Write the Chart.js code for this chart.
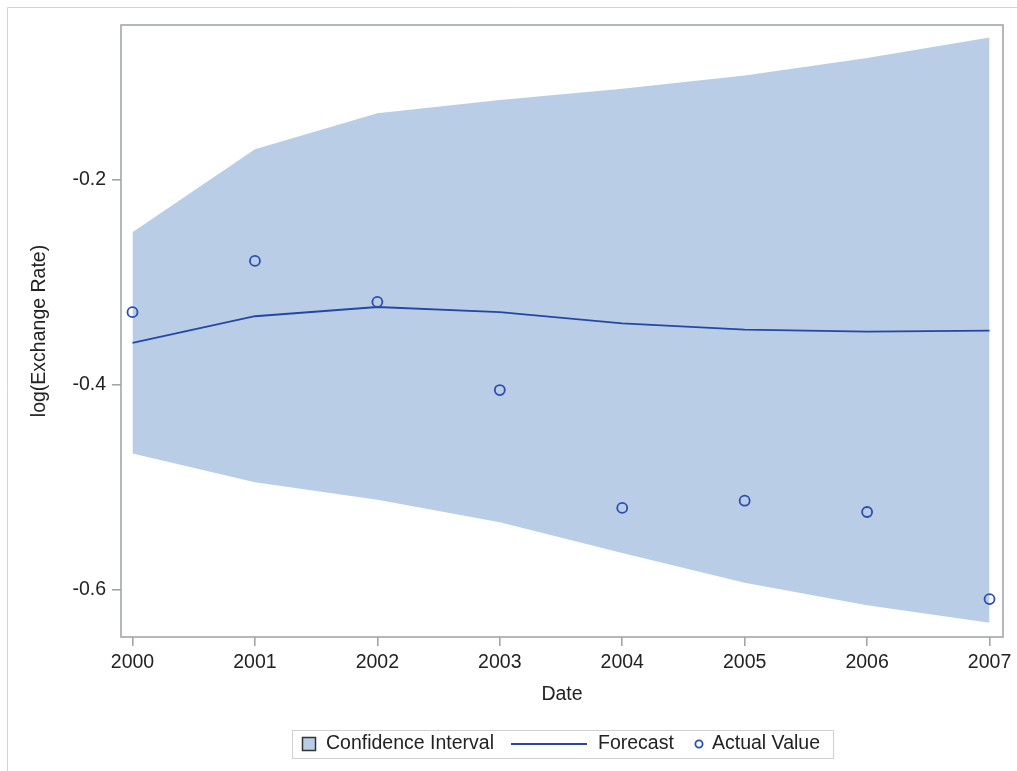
<!DOCTYPE html>
<html>
<head>
<meta charset="utf-8">
<script src="https://cdn.jsdelivr.net/npm/chart.js@4.4.1/dist/chart.umd.min.js"></script>
<style>
  html, body { margin: 0; padding: 0; background: #fff; }
  #wrap { width: 1017px; height: 771px; }
</style>
</head>
<body>
<div id="wrap"><canvas id="c" width="1017" height="771"></canvas></div>
<script>
// Forecast of log(exchange rate) with confidence band and realised values
const years = [2000, 2001, 2002, 2003, 2004, 2005, 2006, 2007];
const upperLimit = [-0.251, -0.170, -0.135, -0.122, -0.111, -0.098, -0.081, -0.061];
const lowerLimit = [-0.467, -0.495, -0.512, -0.534, -0.564, -0.593, -0.615, -0.632];
const forecast   = [-0.359, -0.333, -0.324, -0.329, -0.340, -0.346, -0.348, -0.347];
const actual     = [-0.329, -0.279, -0.319, -0.405, -0.520, -0.513, -0.524, -0.609];
const yTicks = [-0.2, -0.4, -0.6];
const xTitle = 'Date';
const yTitle = 'log(Exchange Rate)';
const legendLabels = ['Confidence Interval', 'Forecast', 'Actual Value'];

const FONT = '"Liberation Sans", Arial, Helvetica, sans-serif';
const BAND = '#b9cee6';
const LINE = '#2447a3';
const MARK = '#2a4db0';
const FRAME = '#a2a6ab';
const TEXT = '#222222';

const pts = arr => years.map((y, i) => ({ x: y, y: arr[i] }));

const decor = {
  id: 'decor',
  beforeDraw(chart) {
    const ctx = chart.ctx;
    ctx.save();
    ctx.strokeStyle = '#d3d3d3';
    ctx.lineWidth = 1;
    ctx.beginPath();
    ctx.moveTo(7.5, 771);
    ctx.lineTo(7.5, 7.5);
    ctx.lineTo(1017, 7.5);
    ctx.stroke();
    ctx.restore();
  },
  afterDraw(chart) {
    const ctx = chart.ctx;
    const a = chart.chartArea;
    ctx.save();
    // plot frame
    ctx.strokeStyle = FRAME;
    ctx.lineWidth = 1.6;
    ctx.strokeRect(a.left, a.top, a.right - a.left, a.bottom - a.top);

    // axis titles
    ctx.fillStyle = TEXT;
    ctx.font = '19.5px ' + FONT;
    ctx.textAlign = 'center';
    ctx.textBaseline = 'middle';
    ctx.fillText(xTitle, (a.left + a.right) / 2, 695);
    ctx.save();
    ctx.translate(40, (a.top + a.bottom) / 2);
    ctx.rotate(-Math.PI / 2);
    ctx.fillText(yTitle, 0, 0);
    ctx.restore();

    // legend
    const ly = 744;
    ctx.strokeStyle = '#d0d0d0';
    ctx.lineWidth = 1;
    ctx.strokeRect(292.5, 730.5, 541, 28);
    ctx.fillStyle = BAND;
    ctx.fillRect(302, 737, 14, 14);
    ctx.strokeStyle = '#333';
    ctx.lineWidth = 1.5;
    ctx.strokeRect(302.5, 737.5, 13, 13);
    ctx.fillStyle = TEXT;
    ctx.textAlign = 'left';
    ctx.fillText(legendLabels[0], 326, ly);
    ctx.strokeStyle = LINE;
    ctx.lineWidth = 1.8;
    ctx.beginPath();
    ctx.moveTo(511, ly);
    ctx.lineTo(587, ly);
    ctx.stroke();
    ctx.fillText(legendLabels[1], 598, ly);
    ctx.strokeStyle = MARK;
    ctx.lineWidth = 1.8;
    ctx.beginPath();
    ctx.arc(699, ly, 3.6, 0, Math.PI * 2);
    ctx.stroke();
    ctx.fillText(legendLabels[2], 712, ly);
    ctx.restore();
  }
};

new Chart(document.getElementById('c'), {
  type: 'line',
  data: {
    datasets: [
      { label: legendLabels[2], data: pts(actual), showLine: false, order: 0,
        pointStyle: 'circle', pointRadius: 5, pointBorderWidth: 1.8,
        pointBorderColor: MARK, pointBackgroundColor: 'rgba(0,0,0,0)' },
      { label: legendLabels[1], data: pts(forecast), order: 1, borderColor: LINE,
        borderWidth: 1.8, pointRadius: 0, tension: 0, fill: false },
      { label: 'upper', data: pts(upperLimit), order: 2, borderWidth: 0,
        borderColor: BAND, pointRadius: 0, tension: 0, fill: '+1', backgroundColor: BAND },
      { label: 'lower', data: pts(lowerLimit), order: 3, borderWidth: 0,
        borderColor: BAND, pointRadius: 0, tension: 0, fill: false }
    ]
  },
  options: {
    responsive: false,
    animation: false,
    devicePixelRatio: 1,
    layout: { padding: { left: 0, top: 25, right: 14, bottom: 0 } },
    plugins: { legend: { display: false }, tooltip: { enabled: false } },
    scales: {
      x: {
        type: 'linear', min: 1999.906, max: 2007.11,
        afterBuildTicks(s) { s.ticks = years.map(v => ({ value: v })); },
        afterFit(s) { s.height = 771 - 637; },
        ticks: { color: TEXT, font: { family: FONT, size: 19.5 }, padding: 5,
                 maxRotation: 0, autoSkip: false, callback: v => String(v) },
        grid: { drawOnChartArea: false, drawTicks: true, tickLength: 9, color: FRAME, lineWidth: 1.6 },
        border: { display: false }
      },
      y: {
        type: 'linear', min: -0.646, max: -0.0488,
        afterBuildTicks(s) { s.ticks = yTicks.map(v => ({ value: v })); },
        afterFit(s) { s.width = 121; },
        ticks: { color: TEXT, font: { family: FONT, size: 19.5 }, padding: 6,
                 callback: v => v.toFixed(1) },
        grid: { drawOnChartArea: false, drawTicks: true, tickLength: 9, color: FRAME, lineWidth: 1.6 },
        border: { display: false }
      }
    }
  },
  plugins: [decor]
});
</script>
</body>
</html>
